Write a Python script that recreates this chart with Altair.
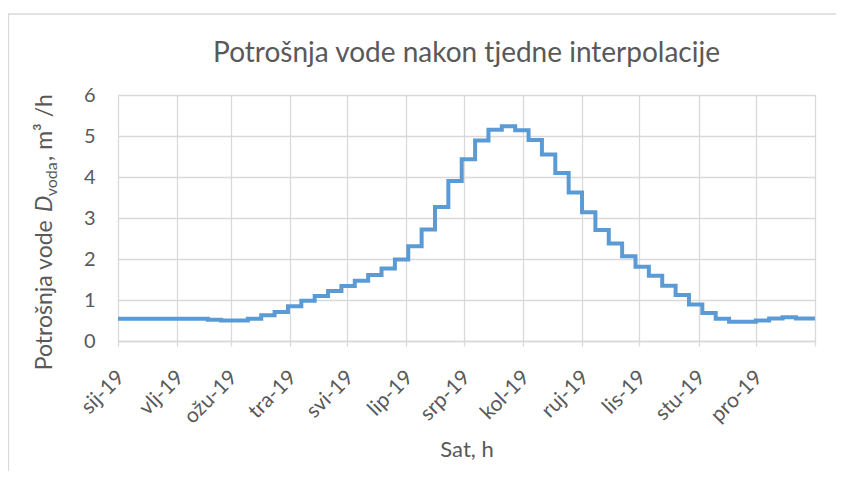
import altair as alt
import pandas as pd

# ---------------- data ----------------
month_labels = ['sij-19', 'vlj-19', 'ožu-19', 'tra-19', 'svi-19', 'lip-19',
                'srp-19', 'kol-19', 'ruj-19', 'lis-19', 'stu-19', 'pro-19']
month_start_day = [0, 31, 59, 90, 120, 151, 181, 212, 243, 273, 304, 334]
year_end_day = 365

# weekly steps (weeks change on Sundays; day 0 = 1 Jan 2019)
week_start_day = [0] + [5 + 7 * k for k in range(52)]
weekly_value = [0.54,
                0.54, 0.54, 0.54, 0.54, 0.54, 0.54,
                0.52, 0.50, 0.50, 0.54, 0.63, 0.71, 0.85, 0.98, 1.10, 1.22,
                1.34, 1.47, 1.61, 1.77, 1.99, 2.31, 2.72, 3.27, 3.90, 4.43,
                4.89, 5.15, 5.24, 5.14, 4.90, 4.55, 4.10, 3.62, 3.14, 2.71,
                2.38, 2.07, 1.81, 1.59, 1.35, 1.12, 0.89, 0.68, 0.54, 0.47,
                0.47, 0.50, 0.55, 0.58, 0.55, 0.55]

title_text = 'Potrošnja vode nakon tjedne interpolacije'
x_title = 'Sat, h'

df = pd.DataFrame({
    'day': week_start_day + [year_end_day],
    'value': weekly_value + [weekly_value[-1]],
})

# ---------------- style ----------------
FONT = 'Lato'
TXT = '#595959'
GRID = '#d9d9d9'
W, H = 697, 246

tick_values = month_start_day + [year_end_day]
lab_list = month_labels + ['']
label_expr = ("[" + ",".join("'%s'" % s for s in lab_list) + "][indexof(["
              + ",".join(str(v) for v in tick_values) + "], datum.value)]")

x_enc = alt.X('day:Q',
              scale=alt.Scale(domain=[0, year_end_day], nice=False, zero=False),
              axis=alt.Axis(values=tick_values, labelExpr=label_expr,
                            title=x_title, titleFont=FONT, titleFontSize=22,
                            titleFontWeight='normal', titleColor=TXT,
                            titleY=115, titleBaseline='alphabetic',
                            labelAngle=315, labelAlign='right', labelBaseline='middle',
                            labelPadding=28, labelOffset=3, labelFont=FONT,
                            labelFontSize=21, labelColor=TXT, tickSize=5,
                            tickColor=GRID, tickWidth=1.3, domainColor=GRID,
                            domainWidth=1.3, gridColor=GRID, gridWidth=1.3,
                            labelOverlap=False, labelFlush=False))
y_enc = alt.Y('value:Q',
              scale=alt.Scale(domain=[0, 6], nice=False),
              axis=alt.Axis(values=[0, 1, 2, 3, 4, 5, 6], title=None,
                            ticks=False, domain=False, labelPadding=23,
                            labelFont=FONT, labelFontSize=20, labelColor=TXT,
                            gridColor=GRID, gridWidth=1.3))

line = alt.Chart(df).mark_line(interpolate='step-after', color='#5b9bd5',
                               strokeWidth=4, strokeJoin='miter').encode(x=x_enc, y=y_enc)

one = pd.DataFrame({'k': [0]})

frame = alt.Chart(one).mark_rect(fill='transparent', stroke=GRID, strokeWidth=1.3).encode(
    x=alt.value(-109.5), x2=alt.value(720), y=alt.value(-81), y2=alt.value(382))

title = alt.Chart(one).mark_text(text=title_text, font=FONT, fontSize=28, color=TXT,
                                 align='center', baseline='alphabetic').encode(
    x=alt.value(W / 2), y=alt.value(-33))

# composite y-axis title: "Potrošnja vode D_voda, m³ /h"
lato_w = {'P': .60, 'o': .57, 't': .38, 'r': .39, 'š': .45, 'n': .58, 'j': .25,
          'a': .53, ' ': .22, 'v': .53, 'd': .58, 'e': .54, 'D': .68, ',': .23,
          'm': .87, '³': .40, '/': .40, 'h': .58}


def tw(s, size):
    return sum(lato_w.get(c, .55) for c in s) * size


pieces = [('Potrošnja vode', 23, 'normal', 0, 0.12),
          ('D', 23, 'italic', 0, 0.0),
          ('voda', 16, 'normal', 5, 0.0),
          (', m³ /h', 23, 'normal', 0, 0.0)]
total = sum(tw(p[0], p[1]) + p[4] * p[1] for p in pieces)
start = (232 - 95) + total / 2
base_x = 52 - 118
ytitle_layers = []
pos = start
for text, size, style, shift, gap in pieces:
    ytitle_layers.append(
        alt.Chart(one).mark_text(text=text, font=FONT, fontSize=size, fontStyle=style,
                                 color=TXT, angle=270, align='left',
                                 baseline='alphabetic').encode(
            x=alt.value(base_x + shift), y=alt.value(pos)))
    pos -= tw(text, size) + gap * size

chart = alt.layer(frame, line, title, *ytitle_layers).properties(
    width=W, height=H,
    autosize=alt.AutoSizeParams(type='none'),
    padding={'left': 110, 'top': 87, 'right': 21, 'bottom': 130},
).configure_view(strokeWidth=0).configure(background='white')

chart.save('out.html', embed_options={'renderer': 'svg', 'actions': False})
